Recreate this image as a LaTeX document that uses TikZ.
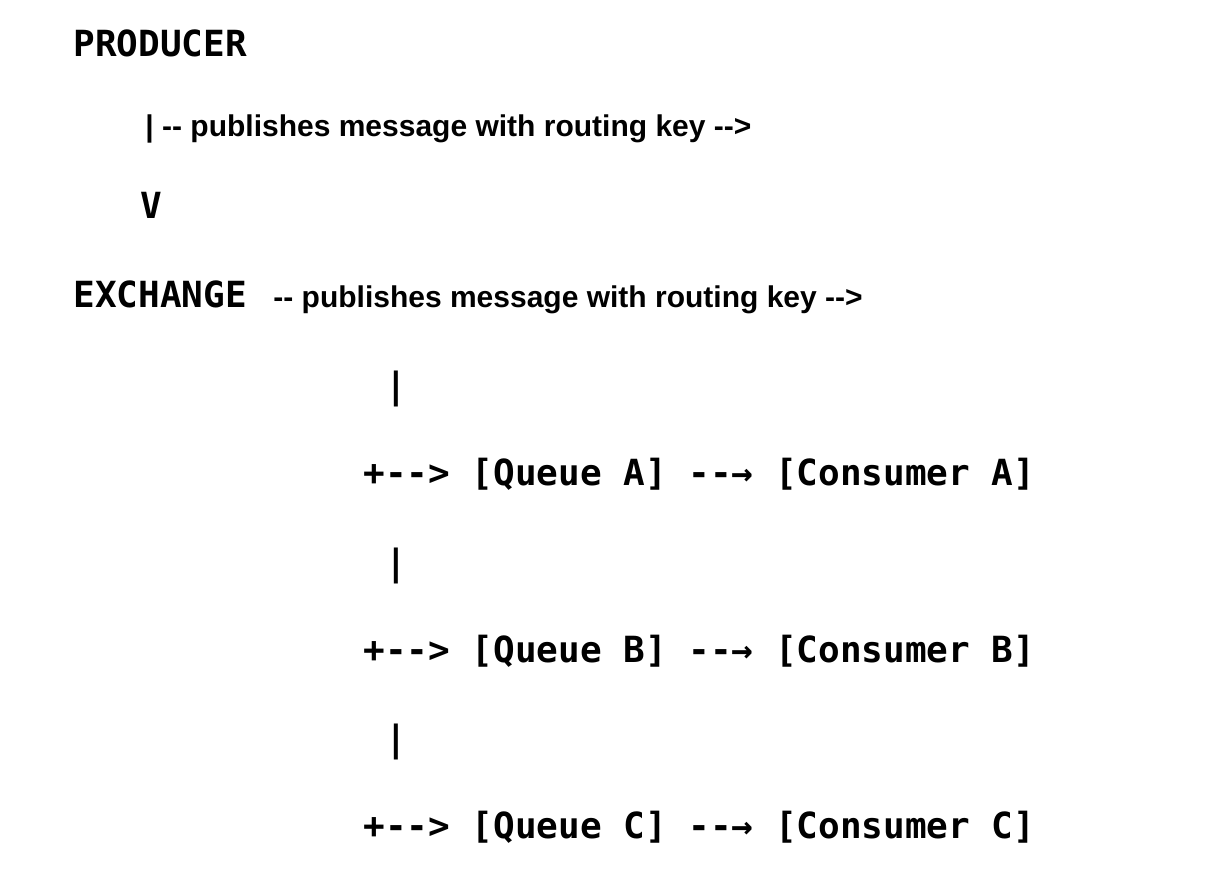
\documentclass[tikz,border=0pt]{standalone}
\usepackage{fontspec}
\setmainfont{Liberation Sans}
\newfontfamily\codefont{DejaVu Sans Mono}
\begin{document}
\begin{tikzpicture}[x=0.5pt,y=-0.5pt,
  code/.style={anchor=base west,inner sep=0pt,font=\codefont\bfseries\fontsize{18pt}{20pt}\selectfont},
  note/.style={anchor=base west,inner sep=0pt,font=\bfseries\fontsize{15pt}{17pt}\selectfont}]
	\useasboundingbox (0,0) rectangle (1226,880);
	
	\node[code] (producer) at (73,56) {PRODUCER};
	\node[note] (pubA) at (145,136) {| -{}- publishes message with routing key -{}->};
	\node[code] (down) at (140,218) {V};
	\node[code] (exchange) at (73,307) {EXCHANGE};
	\node[note] (pubB) at (273,307) {-{}- publishes message with routing key -{}->};
	
	\foreach \name/\y in {A/485,B/662,C/838}
	{
		\node[code] (bar\name) at (363,\y-87) {~|};
		\node[code] (row\name) at (363,\y) {+-{}-> [Queue \name] -{}-→ [Consumer \name]};
	}
\end{tikzpicture}
\end{document}
